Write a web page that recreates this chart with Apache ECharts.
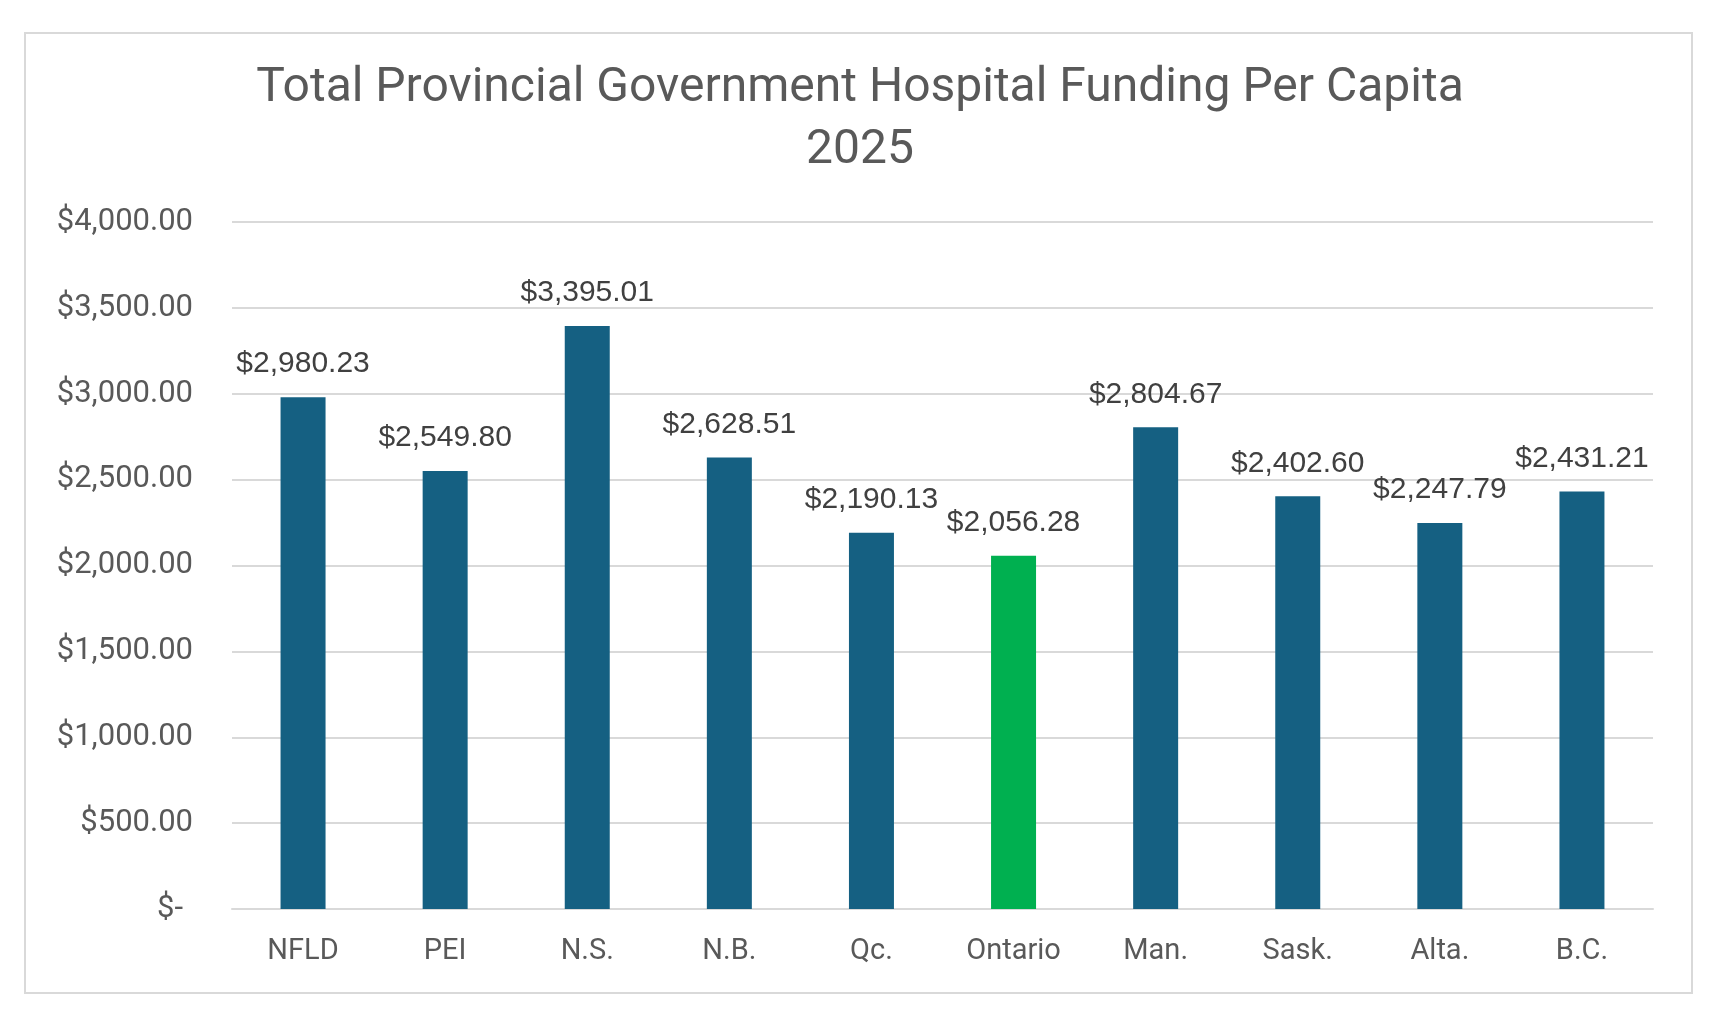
<!DOCTYPE html>
<html>
<head>
<meta charset="utf-8">
<title>Hospital Funding Per Capita</title>
<script src="https://cdn.jsdelivr.net/npm/echarts@6/dist/echarts.min.js"></script>
<style>
  html, body { margin: 0; padding: 0; background: #fff; }
  #main { width: 1720px; height: 1024px; }
</style>
</head>
<body>
<div id="main"></div>
<script>
// data
var provinces = ['NFLD', 'PEI', 'N.S.', 'N.B.', 'Qc.', 'Ontario', 'Man.', 'Sask.', 'Alta.', 'B.C.'];
var fundingPerCapita = [2980.23, 2549.80, 3395.01, 2628.51, 2190.13, 2056.28, 2804.67, 2402.60, 2247.79, 2431.21];
var highlighted = 'Ontario';

function money(v) {
    return '$' + v.toLocaleString('en-US', { minimumFractionDigits: 2, maximumFractionDigits: 2 });
}

var myChart = echarts.init(document.getElementById('main'));
myChart.setOption({
    animation: false,
    title: {
        text: 'Total Provincial Government Hospital Funding Per Capita\n2025',
        left: 'center',
        top: 53,
        textStyle: {
            fontFamily: 'Roboto',
            fontSize: 48,
            fontWeight: 'normal',
            color: '#595959',
            lineHeight: 62,
            align: 'center'
        }
    },
    //chart frame
    graphic: [{
        type: 'rect',
        shape: { x: 25, y: 33, width: 1667, height: 960 },
        style: { fill: 'none', stroke: '#d9d9d9', lineWidth: 2 },
        silent: true
    }],
    grid: {
        left: 232,
        right: 67,
        top: 222,
        bottom: 115
    },
    xAxis: {
        type: 'category',
        data: provinces,
        axisTick: { show: false },
        axisLine: { lineStyle: { color: '#d9d9d9', width: 2 } },
        axisLabel: {
            fontFamily: 'Roboto',
            fontSize: 29,
            color: '#595959',
            margin: 28
        }
    },
    yAxis: {
        type: 'value',
        min: 0,
        max: 4000,
        interval: 500,
        axisLine: { show: false },
        axisTick: { show: false },
        splitLine: { lineStyle: { color: '#d9d9d9', width: 2 } },
        axisLabel: {
            fontFamily: 'Roboto',
            fontSize: 31,
            color: '#595959',
            margin: 39,
            formatter: function (v) {
                return v === 0 ? '{z|$-}' : money(v);
            },
            rich: {
                z: { fontFamily: 'Roboto', fontSize: 31, color: '#595959', padding: [0, 10, 0, 0] }
            }
        }
    },
    series: [{
        type: 'bar',
        data: fundingPerCapita,
        barWidth: 45,
        itemStyle: {
            color: function (p) {
                return provinces[p.dataIndex] === highlighted ? '#00b050' : '#156082';
            }
        },
        label: {
            show: true,
            position: 'top',
            distance: 18,
            fontFamily: 'Liberation Sans',
            fontSize: 30,
            color: '#404040',
            formatter: function (p) { return money(p.value); }
        }
    }]
});
</script>
</body>
</html>
